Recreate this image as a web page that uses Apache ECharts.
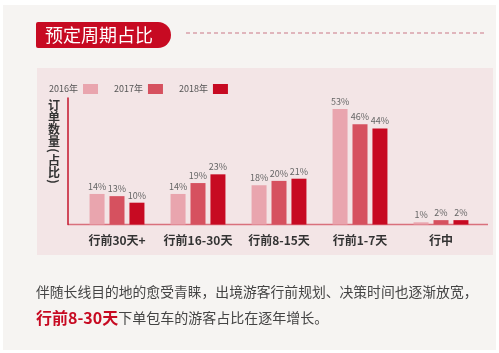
<!DOCTYPE html>
<html>
<head>
<meta charset="utf-8">
<script src="https://cdn.jsdelivr.net/npm/echarts@6/dist/echarts.min.js"></script>
<style>
  html, body { margin: 0; padding: 0; background: #fff; }
  #myCharts { width: 499px; height: 353px; }
</style>
</head>
<body>
<div id="myCharts"></div>
<script>
// 数据
var categories = ["行前30天+", "行前16-30天", "行前8-15天", "行前1-7天", "行中"];
var years = ["2016年", "2017年", "2018年"];
var data2016 = [14, 14, 18, 53, 1];
var data2017 = [13, 19, 20, 46, 2];
var data2018 = [10, 23, 21, 44, 2];
var colors = ["#e9a5ae", "#d6515f", "#c70a22"];
var yName = "订单数量(占比)";

var FONT = "Noto Sans CJK SC";
var myCharts = echarts.init(document.getElementById("myCharts"));

function barSeries(name, values) {
  return {
    name: name,
    type: "bar",
    barWidth: 15,
    barGap: "33%",
    data: values,
    label: {
      show: true,
      position: "top",
      distance: 3,
      formatter: "{c}%",
      fontSize: 9,
      color: "#666",
      fontFamily: FONT
    }
  };
}

// 竖排y轴名称，括号旋转90度
var yNameItems = [];
var cy = 99;
yName.split("").forEach(function (ch) {
  var isParen = ch === "(" || ch === ")";
  var h = isParen ? 7 : 12;
  yNameItems.push({
    type: "text",
    x: 54,
    y: cy + h / 2,
    rotation: isParen ? -Math.PI / 2 : 0,
    style: {
      text: ch,
      fill: "#333",
      fontSize: 12,
      fontWeight: "bold",
      fontFamily: FONT,
      align: "center",
      verticalAlign: "middle"
    }
  });
  cy += h;
});

var option = {
  backgroundColor: "#fff",
  color: colors,
  animation: false,
  textStyle: { fontFamily: FONT },
  legend: {
    data: years,
    left: 44,
    top: 79,
    align: "right",
    icon: "rect",
    itemWidth: 15,
    itemHeight: 10,
    itemGap: 16,
    textStyle: { fontSize: 9, color: "#555", fontFamily: FONT }
  },
  grid: {
    left: 76.5,
    right: 17.5,
    top: 98,
    bottom: 128.5
  },
  xAxis: {
    type: "category",
    data: categories,
    axisLine: { show: false },
    axisTick: { show: false },
    axisLabel: {
      interval: 0,
      margin: 10,
      fontSize: 12,
      fontWeight: "bold",
      color: "#333",
      fontFamily: FONT
    }
  },
  yAxis: {
    type: "value",
    min: 0,
    max: 58,
    offset: 8.5,
    axisLine: { show: true, lineStyle: { color: "#c4142c", width: 1.5 } },
    axisTick: { show: false },
    axisLabel: { show: false },
    splitLine: { show: false }
  },
  graphic: [
    // 背景
    { type: "rect", z: -10, shape: { x: 3, y: 5, width: 493, height: 345 }, style: { fill: "#f6f4f2" } },
    { type: "rect", z: -9, shape: { x: 37, y: 68, width: 456, height: 187 }, style: { fill: "#f3e5e6" } },
    // 标题
    { type: "rect", shape: { x: 36, y: 22, width: 135, height: 26, r: [2, 13, 13, 2] }, style: { fill: "#c70a22" } },
    { type: "text", x: 45, y: 35, style: { text: "预定周期占比", fill: "#fff", fontSize: 18, fontFamily: FONT, verticalAlign: "middle" } },
    { type: "line", shape: { x1: 186, y1: 33, x2: 486, y2: 33 }, style: { stroke: "#d9a0aa", lineWidth: 1.5, lineDash: [4, 3] } },
    // x轴线
    { type: "line", shape: { x1: 68, y1: 224.5, x2: 488, y2: 224.5 }, style: { stroke: "#d9707c", lineWidth: 1.5 } },
    // 说明文字
    {
      type: "text", x: 36, y: 292,
      style: {
        text: "伴随长线目的地的愈受青睐，出境游客行前规划、决策时间也逐渐放宽，",
        fill: "#444", fontSize: 13.8, fontFamily: FONT, verticalAlign: "middle"
      }
    },
    {
      type: "text", x: 36, y: 318,
      style: {
        text: "{a|行前8-30天}{b|下单包车的游客占比在逐年增长。}",
        verticalAlign: "middle",
        rich: {
          a: { fill: "#c70a22", fontSize: 16, fontWeight: "bold", fontFamily: FONT },
          b: { fill: "#444", fontSize: 14, fontFamily: FONT }
        }
      }
    }
  ].concat(yNameItems),
  series: [
    barSeries(years[0], data2016),
    barSeries(years[1], data2017),
    barSeries(years[2], data2018)
  ]
};
myCharts.setOption(option);
</script>
</body>
</html>
